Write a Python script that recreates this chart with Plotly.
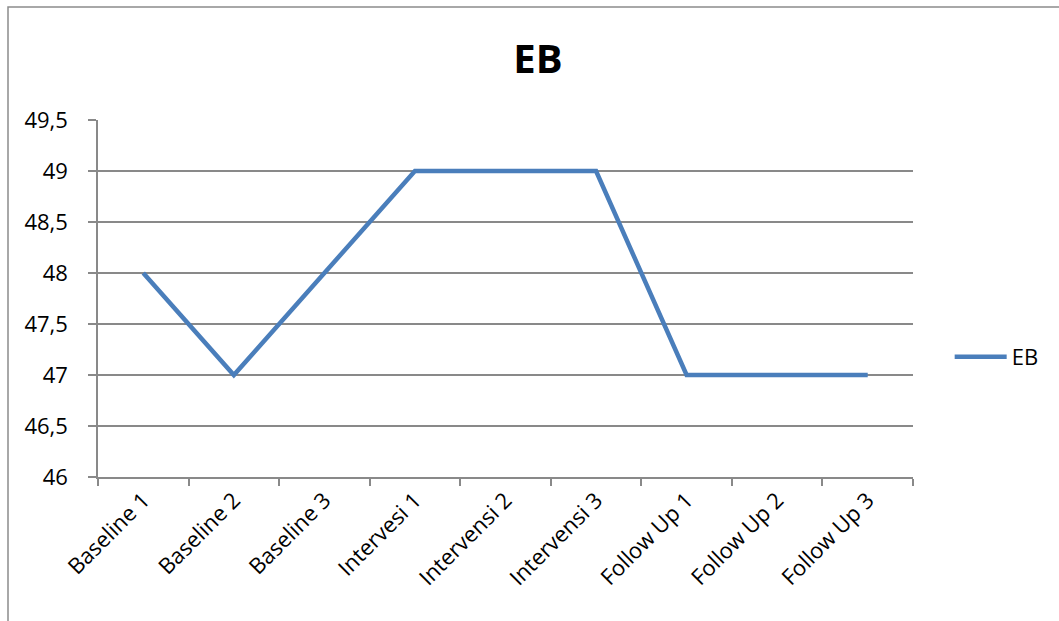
import plotly.graph_objects as go

categories = ["Baseline 1", "Baseline 2", "Baseline 3", "Intervesi 1", "Intervensi 2",
              "Intervensi 3", "Follow Up 1", "Follow Up 2", "Follow Up 3"]
eb_values = [48, 47, 48, 49, 49, 49, 47, 47, 47]
y_ticks = [46, 46.5, 47, 47.5, 48, 48.5, 49, 49.5]
y_tick_labels = ["46", "46,5", "47", "47,5", "48", "48,5", "49", "49,5"]

FONT = "Open Sans"
GRID = "#898989"

fig = go.Figure()
fig.add_trace(go.Scatter(
    x=categories, y=eb_values, mode="lines", name="EB",
    line=dict(color="#4a7ebb", width=4.5),
))

fig.update_layout(
    width=1059, height=621,
    margin=dict(l=98, r=146, t=120, b=144),
    paper_bgcolor="white", plot_bgcolor="white",
    font=dict(family=FONT, size=22, color="black"),
    title=dict(text="<b>EB</b>", x=538/1059, xanchor="center", y=1-59/621, yanchor="middle",
               font=dict(family=FONT, size=40, color="black")),
    showlegend=True,
    legend=dict(x=1.045, xanchor="left", y=(477-357)/357, yanchor="middle",
                font=dict(family=FONT, size=22), bgcolor="rgba(0,0,0,0)",
                itemwidth=52),
    xaxis=dict(
        type="category", range=[-0.5, 8.5], showgrid=False,
        showline=True, linecolor=GRID, linewidth=1.5,
        ticks="outside", tickson="boundaries", ticklen=7, tickcolor=GRID, tickwidth=1.5,
        tickangle=-45, tickfont=dict(family=FONT, size=22),
    ),
    yaxis=dict(
        range=[46, 49.5], tickvals=y_ticks, ticktext=y_tick_labels,
        showgrid=True, gridcolor=GRID, gridwidth=1.5,
        showline=True, linecolor=GRID, linewidth=1.5,
        ticks="outside", ticklen=8, tickcolor=GRID, tickwidth=1.5,
        ticklabelstandoff=16, zeroline=False,
        tickfont=dict(family=FONT, size=22),
    ),
)

# chart-area border (left and top edges visible; right/bottom run off the image)
fig.add_shape(type="rect", xref="paper", yref="paper",
              x0=(8-98)/815, x1=1.5, y0=-0.6, y1=(477-7)/357,
              line=dict(color="#8c8c8c", width=1.5), layer="below")

fig.write_html("out.html")
